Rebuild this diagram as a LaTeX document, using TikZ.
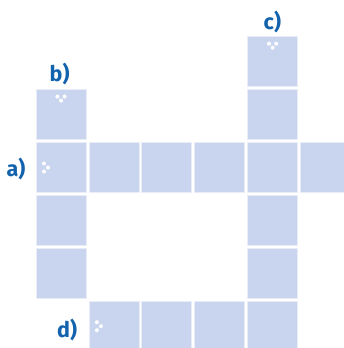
\documentclass[tikz,border=0pt]{standalone}
\usepackage{fontspec}
\usetikzlibrary{calc}
\newfontfamily\lblfont{Fira Sans}
\definecolor{boxfill}{HTML}{C9D4EE}
\definecolor{boxedge}{HTML}{E9EDF7}
\definecolor{lblblue}{HTML}{1262AE}
\begin{document}
\begin{tikzpicture}[x=1pt,y=-1pt,
  cell/.style={rectangle,minimum width=50pt,minimum height=50pt,inner sep=0pt,fill=boxfill,draw=boxedge,line width=0.8pt},
  lbl/.style={anchor=base west,inner sep=0pt,text=lblblue,font=\lblfont\bfseries\fontsize{21.5}{24}\selectfont},
  dot/.style={fill=white,draw=none}]
\useasboundingbox (0,0) rectangle (344,348);
\clip (0,0) rectangle (344,348);
% cells: col i center x = 61 + 52.9 i ; row j center y = 61.7 + 52.9 j
\foreach \c/\r in {4/0, 0/1, 4/1, 0/2, 1/2, 2/2, 3/2, 4/2, 5/2, 0/3, 4/3, 0/4, 4/4, 1/5, 2/5, 3/5, 4/5}{
  \node[cell] (s\c\r) at ({61+52.9*\c},{61.7+52.9*\r}) {};
}
% dots
\foreach \n in {s01,s40}{
  \fill[dot] ($(\n.center)+(-3.6,-18)$) circle (2);
  \fill[dot] ($(\n.center)+(3.6,-18)$) circle (2);
  \fill[dot] ($(\n.center)+(0,-14)$) circle (2);
}
\foreach \n in {s02,s15}{
  \fill[dot] ($(\n.center)+(-17,-4)$) circle (2);
  \fill[dot] ($(\n.center)+(-13,0)$) circle (2);
  \fill[dot] ($(\n.center)+(-17,4)$) circle (2);
}
% labels
\node[lbl] (la) at (6.5,176) {a)};
\node[lbl] (lb) at (49.5,81.7) {b)};
\node[lbl] (lc) at (263.5,29) {c)};
\node[lbl] (ld) at (57,337.3) {d)};
\end{tikzpicture}
\end{document}
